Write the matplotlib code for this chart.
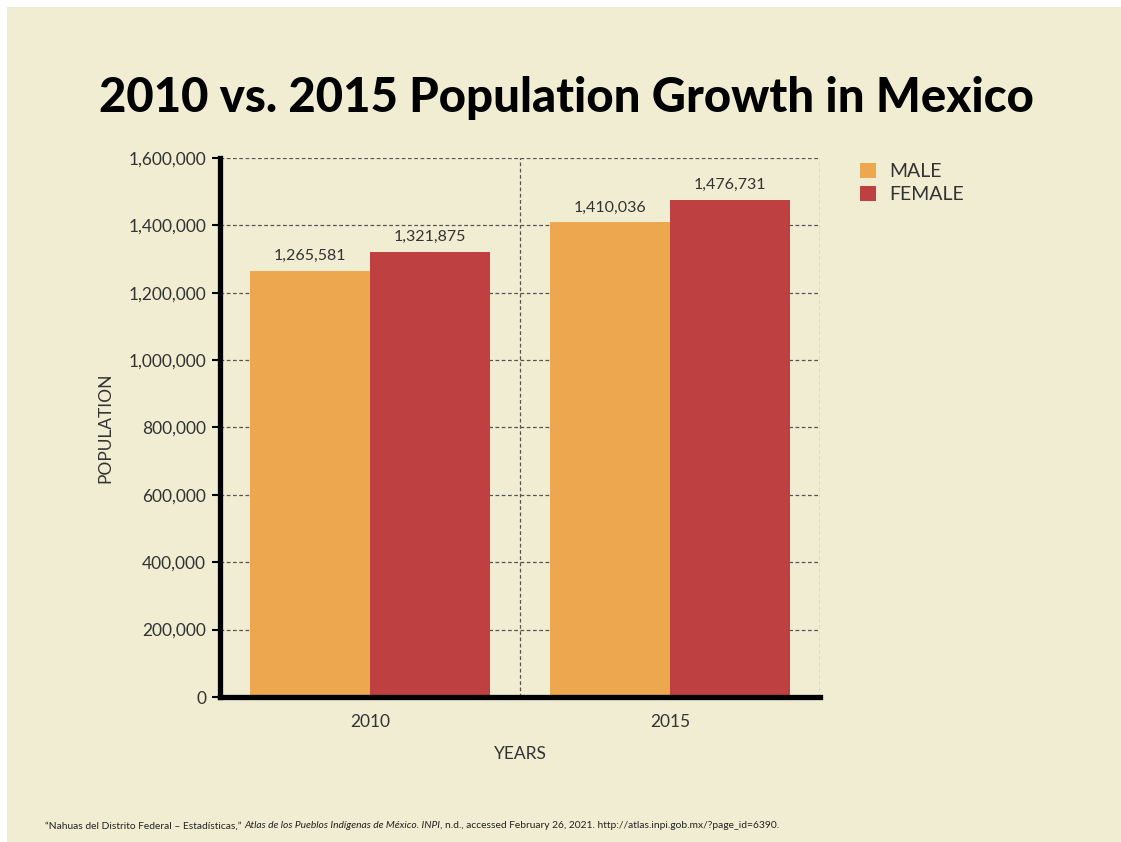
import matplotlib
matplotlib.use("Agg")
import matplotlib.pyplot as plt
from matplotlib.patches import Rectangle
from matplotlib.ticker import FuncFormatter
import numpy as np

# data
years = ["2010", "2015"]
male = [1265581, 1410036]
female = [1321875, 1476731]
series_names = ["MALE", "FEMALE"]
y_ticks = [0, 200000, 400000, 600000, 800000, 1000000, 1200000, 1400000, 1600000]

bg = "#F1EDD2"
orange = "#EDA74E"
red = "#BF4040"
txt = "#333333"

plt.rcParams['font.family'] = ['Lato', 'DejaVu Sans']

fig = plt.figure(figsize=(11.21, 8.42), dpi=100)
fig.patch.set_facecolor("white")
fig.patches.append(Rectangle((7 / 1121, 0), 1, 1 - 7 / 842, transform=fig.transFigure,
                             facecolor=bg, edgecolor="none", zorder=-10))

ax = fig.add_axes([220 / 1121, 1 - 697 / 842, 600 / 1121, 539 / 842])
ax.set_facecolor("none")

x = np.arange(len(years))
w = 0.4
b1 = ax.bar(x - w / 2, male, w, color=orange, label=series_names[0], zorder=3)
b2 = ax.bar(x + w / 2, female, w, color=red, label=series_names[1], zorder=3)

for bars, vals in ((b1, male), (b2, female)):
    for r, v in zip(bars, vals):
        ax.text(r.get_x() + r.get_width() / 2, v + 22000, f"{v:,}", ha="center", va="bottom",
                fontsize=11.5, color=txt, zorder=4)

ax.set_xlim(-0.5, 1.5)
ax.set_ylim(0, 1600000)
ax.set_yticks(y_ticks)
ax.yaxis.set_major_formatter(FuncFormatter(lambda v, p: f"{int(v):,}"))
ax.set_xticks(x)
ax.set_xticklabels(years)

# grid
for yt in y_ticks[1:]:
    ax.axhline(yt, color="#555555", lw=0.9, ls=(0, (3, 2)), zorder=1)
for xv in (0.5, 1.5):
    ax.axvline(xv, color="#555555", lw=0.9, ls=(0, (3, 2)), zorder=1)

for s in ("top", "right"):
    ax.spines[s].set_visible(False)
ax.spines["left"].set_linewidth(3.8)
ax.spines["bottom"].set_linewidth(3.8)
ax.spines["left"].set_zorder(5)
ax.spines["bottom"].set_zorder(5)
ax.tick_params(axis="y", length=6, width=1.5, labelsize=12.5, labelcolor=txt, pad=4)
ax.tick_params(axis="x", length=0, labelsize=12.5, labelcolor=txt, pad=12)

ax.set_ylabel("POPULATION", fontsize=12.5, color=txt, labelpad=11)
ax.set_xlabel("YEARS", fontsize=12.5, color=txt, labelpad=12)

fig.text(566 / 1121, 1 - 98 / 842, "2010 vs. 2015 Population Growth in Mexico",
         ha="center", va="center", fontsize=34, fontweight="black", color="black")

leg = ax.legend(loc="upper left", bbox_to_anchor=(842 / 1121, 1 - 145 / 842),
                bbox_transform=fig.transFigure, frameon=False, fontsize=14,
                handlelength=0.85, handleheight=0.85, handletextpad=0.7, labelspacing=0.3)
for t in leg.get_texts():
    t.set_color(txt)

# footnote built from pieces
fig.canvas.draw()
renderer = fig.canvas.get_renderer()
pieces = [("\u201cNahuas del Distrito Federal \u2013 Estad\u00edsticas,\u201d ", "normal"),
          ("Atlas de los Pueblos Ind\u00edgenas de M\u00e9xico. INPI", "italic"),
          (", n.d., accessed February 26, 2021. http://atlas.inpi.gob.mx/?page_id=6390.", "normal")]
xpos = 45
for s, style in pieces:
    t = fig.text(xpos / 1121, 1 - 826 / 842, s, ha="left", va="center", fontsize=7.4,
                 style=style, color="#222222")
    bb = t.get_window_extent(renderer)
    xpos += bb.width

fig.savefig("out.png", dpi=100, facecolor=fig.get_facecolor())
